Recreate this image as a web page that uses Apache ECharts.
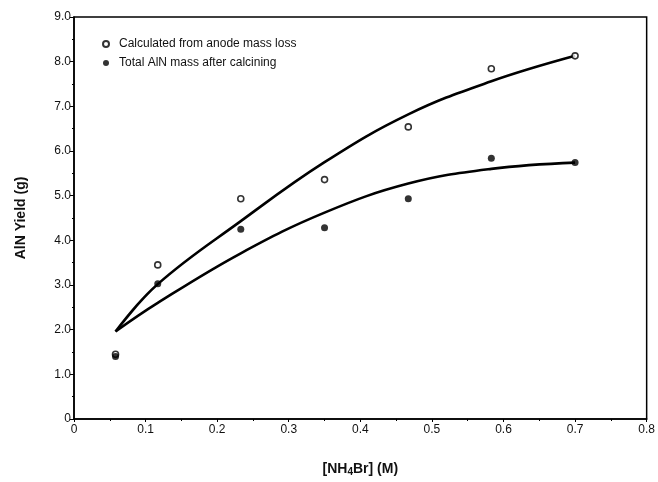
<!DOCTYPE html>
<html>
<head>
<meta charset="utf-8">
<script src="https://cdn.jsdelivr.net/npm/echarts@6/dist/echarts.min.js"></script>
<style>
html,body{margin:0;padding:0;background:#fff;}
#chart{width:658px;height:482px;}
</style>
</head>
<body>
<div id="chart"></div>
<script>
// Data
var concM = [0.058, 0.117, 0.233, 0.350, 0.467, 0.583, 0.700];
var anodeLoss = [1.45, 3.45, 4.93, 5.36, 6.54, 7.84, 8.13];
var totalMass = [1.40, 3.03, 4.25, 4.28, 4.93, 5.84, 5.74];
var fitAnode = [1.96, 3.02, 4.43, 5.75, 6.82, 7.56, 8.13];
var fitTotal = [1.96, 2.60, 3.71, 4.62, 5.27, 5.60, 5.74];
var seriesNames = ['Calculated from anode mass loss', 'Total AlN mass after calcining'];
var xTicks = [0, 0.1, 0.2, 0.3, 0.4, 0.5, 0.6, 0.7, 0.8];
var yTicks = [0, 1, 2, 3, 4, 5, 6, 7, 8, 9];

function pairs(xs, ys) { return xs.map(function (x, i) { return [x, ys[i]]; }); }

var chart = echarts.init(document.getElementById('chart'), null, {renderer: 'canvas'});
var font = 'Liberation Sans, Arial, Helvetica, sans-serif';
chart.setOption({
  animation: false,
  backgroundColor: '#fff',
  textStyle: {fontFamily: font},
  grid: {left: 74, right: 11, top: 17, bottom: 60, show: true, borderColor: '#000', borderWidth: 1.5},
  legend: {
    data: seriesNames,
    orient: 'vertical',
    left: 97, top: 33,
    itemWidth: 6, itemHeight: 6, itemGap: 7,
    textStyle: {fontSize: 12, color: '#111', fontFamily: font, padding: [0, 0, 0, 5]}
  },
  xAxis: {
    type: 'value', min: 0, max: 0.8, interval: 0.1,
    name: '{a|[NH}{s|4}{a|Br] (M)}',
    nameLocation: 'middle', nameGap: 42,
    nameTextStyle: {rich: {
      a: {fontSize: 14, fontWeight: 'bold', color: '#111', fontFamily: font},
      s: {fontSize: 10, fontWeight: 'bold', color: '#111', fontFamily: font, verticalAlign: 'bottom', padding: [6, 0, 0, 0]}
    }},
    axisLine: {lineStyle: {color: '#000', width: 1.5}},
    axisTick: {show: true, inside: false, length: 3, lineStyle: {color: '#000'}},
    minorTick: {show: true, splitNumber: 2, length: 2, lineStyle: {color: '#000'}},
    splitLine: {show: false},
    axisLabel: {fontSize: 12, color: '#111', margin: 5, fontFamily: font,
      formatter: function (v) { return xTicks.indexOf(Math.round(v * 10) / 10) >= 0 ? String(Math.round(v * 10) / 10) : ''; }}
  },
  yAxis: {
    type: 'value', min: 0, max: 9, interval: 1,
    name: 'AlN Yield (g)',
    nameLocation: 'middle', nameGap: 46, nameRotate: 90,
    nameTextStyle: {fontSize: 14, fontWeight: 'bold', color: '#111', fontFamily: font},
    axisLine: {show: true, lineStyle: {color: '#000', width: 1.5}},
    axisTick: {show: true, inside: false, length: 4, lineStyle: {color: '#000'}},
    minorTick: {show: true, splitNumber: 2, length: 2, lineStyle: {color: '#000'}},
    splitLine: {show: false},
    axisLabel: {fontSize: 12, color: '#111', margin: 3, fontFamily: font,
      formatter: function (v) { return v === 0 ? '0' : (yTicks.indexOf(v) >= 0 ? v.toFixed(1) : ''); }}
  },
  series: [
    {
      name: 'fit1', type: 'line', data: pairs(concM, fitAnode), smooth: 0.4,
      showSymbol: false, symbol: 'none', lineStyle: {color: '#000', width: 2.6}, z: 2, silent: true
    },
    {
      name: 'fit2', type: 'line', data: pairs(concM, fitTotal), smooth: 0.4,
      showSymbol: false, symbol: 'none', lineStyle: {color: '#000', width: 2.6}, z: 2, silent: true
    },
    {
      name: seriesNames[0], type: 'scatter', data: pairs(concM, anodeLoss),
      symbol: 'circle', symbolSize: 6,
      itemStyle: {color: '#fff', borderColor: '#000', borderWidth: 1.6}, z: 3
    },
    {
      name: seriesNames[1], type: 'scatter', data: pairs(concM, totalMass),
      symbol: 'circle', symbolSize: 7,
      itemStyle: {color: '#000', borderColor: '#000', borderWidth: 0}, z: 4
    }
  ]
});
</script>
</body>
</html>
